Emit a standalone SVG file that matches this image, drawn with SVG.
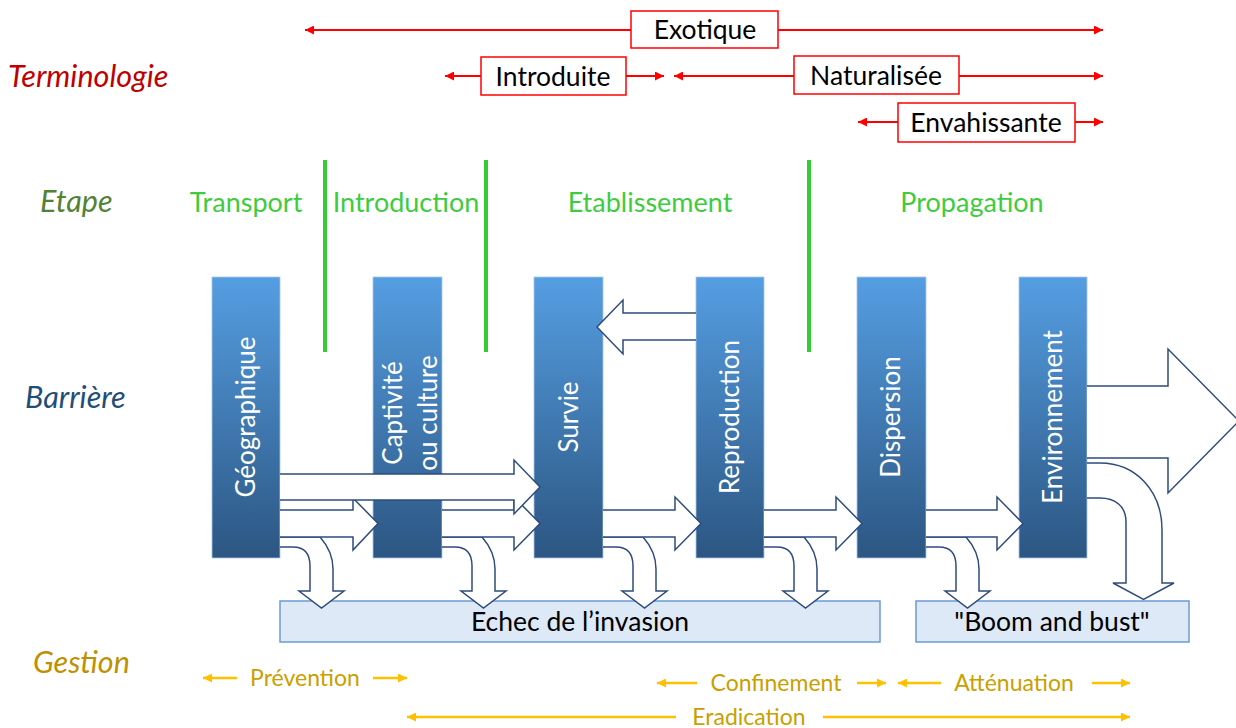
<svg xmlns="http://www.w3.org/2000/svg" xmlns:xlink="http://www.w3.org/1999/xlink" width="1236" height="728" viewBox="0 0 1236 728">
<style>
.lbl{font-family:Lato,"Liberation Sans",sans-serif;font-style:italic;font-size:30.5px}
.etape{font-family:Lato,"Liberation Sans",sans-serif;font-size:27px;fill:#3ecc3e;text-anchor:middle}
.term{font-family:Lato,"Liberation Sans",sans-serif;font-size:26.5px;fill:#000;text-anchor:middle}
.tbox{fill:#fff;stroke:#ff0000;stroke-width:1.5}
.rline{stroke:#ff0000;stroke-width:2;fill:none}
.gline{stroke:#ffc000;stroke-width:2.5;fill:none}
.gest{font-family:Lato,"Liberation Sans",sans-serif;font-size:23px;fill:#c9a000;text-anchor:middle}
.bar{fill:url(#barGrad);stroke:#a9c6ea;stroke-width:0.8}
.btxt{font-family:Lato,"Liberation Sans",sans-serif;font-size:26px;fill:#fff;text-anchor:middle}
.green{stroke:#33cc33;stroke-width:4}
.blk{fill:#fff;stroke:#2f4b7c;stroke-width:1.5;stroke-linejoin:miter}
.outbox{fill:#dde9f6;stroke:#6c9bd2;stroke-width:1.5}
.otxt{font-family:Lato,"Liberation Sans",sans-serif;font-size:26.5px;fill:#000;text-anchor:middle}
</style>
<defs>
<linearGradient id="barGrad" x1="0" y1="0" x2="0" y2="1">
<stop offset="0" stop-color="#559ee2"/>
<stop offset="1" stop-color="#2c5682"/>
</linearGradient>
<marker id="ra" viewBox="0 0 10 10" refX="10" refY="5" markerWidth="9" markerHeight="9" markerUnits="userSpaceOnUse" orient="auto-start-reverse">
<path d="M0,0 L10,5 L0,10 Z" fill="#ff0000"/>
</marker>
<marker id="ga" viewBox="0 0 10 10" refX="10" refY="5" markerWidth="9" markerHeight="9" markerUnits="userSpaceOnUse" orient="auto-start-reverse">
<path d="M0,0 L10,5 L0,10 Z" fill="#ffc000"/>
</marker>
<path id="curve" class="blk" d="M0,547 L13,547 Q30,547 30,566 L30,591 L19,591 L41.5,608 L64,591 L53,591 L53,569 C53,557 48,546 40,537 L0,537"/>
</defs>

<g id="labels">
<text class="lbl" x="8" y="87" fill="#c00000">Terminologie</text>
<text class="lbl" x="40" y="212" fill="#548235">Etape</text>
<text class="lbl" x="25" y="408" fill="#1f4e79">Barrière</text>
<text class="lbl" x="33" y="673" fill="#bf9000">Gestion</text>
</g>

<g id="terminologie">
<g id="t-exotique">
<line class="rline" x1="305" y1="30" x2="1103" y2="30" marker-start="url(#ra)" marker-end="url(#ra)"/>
<rect class="tbox" x="631" y="11" width="147" height="37"/>
<text class="term" x="705" y="39">Exotique</text>
</g>
<g id="t-introduite">
<line class="rline" x1="445" y1="76" x2="664" y2="76" marker-start="url(#ra)" marker-end="url(#ra)"/>
<rect class="tbox" x="481" y="57" width="145" height="38"/>
<text class="term" x="553" y="86">Introduite</text>
</g>
<g id="t-naturalisee">
<line class="rline" x1="674" y1="76" x2="1103" y2="76" marker-start="url(#ra)" marker-end="url(#ra)"/>
<rect class="tbox" x="794" y="56" width="165" height="38"/>
<text class="term" x="876" y="85">Naturalisée</text>
</g>
<g id="t-envahissante">
<line class="rline" x1="858" y1="122" x2="1103" y2="122" marker-start="url(#ra)" marker-end="url(#ra)"/>
<rect class="tbox" x="898" y="103" width="177" height="39"/>
<text class="term" x="986" y="132">Envahissante</text>
</g>
</g>

<g id="etapes">
<text class="etape" x="246" y="212">Transport</text>
<text class="etape" x="406" y="212">Introduction</text>
<text class="etape" x="650" y="212">Etablissement</text>
<text class="etape" x="972" y="212">Propagation</text>
<line class="green" x1="325" y1="160" x2="325" y2="352"/>
<line class="green" x1="486" y1="160" x2="486" y2="352"/>
<line class="green" x1="809" y1="160" x2="809" y2="352"/>
</g>

<g id="barrieres">
<g id="b-geo"><rect class="bar" x="212" y="277" width="68" height="281"/>
<text class="btxt" transform="translate(246,417) rotate(-90)" dy="0.35em">Géographique</text></g>
<g id="b-capt"><rect class="bar" x="373" y="277" width="69" height="281"/>
<text class="btxt" transform="translate(393,413) rotate(-90)" dy="0.35em">Captivité</text>
<text class="btxt" transform="translate(428,413) rotate(-90)" dy="0.35em">ou culture</text></g>
<g id="b-survie"><rect class="bar" x="534" y="277" width="69" height="281"/>
<text class="btxt" transform="translate(569,417) rotate(-90)" dy="0.35em">Survie</text></g>
<g id="b-repro"><rect class="bar" x="696" y="277" width="68" height="281"/>
<text class="btxt" transform="translate(730,417) rotate(-90)" dy="0.35em">Reproduction</text></g>
<g id="b-disp"><rect class="bar" x="857" y="277" width="69" height="281"/>
<text class="btxt" transform="translate(891,417) rotate(-90)" dy="0.35em">Dispersion</text></g>
<g id="b-env"><rect class="bar" x="1019" y="277" width="68" height="281"/>
<text class="btxt" transform="translate(1053,417) rotate(-90)" dy="0.35em">Environnement</text></g>
</g>

<g id="issues">
<g id="echec"><rect class="outbox" x="280" y="601" width="600" height="41"/>
<text class="otxt" x="580" y="631">Echec de l’invasion</text></g>
<g id="boom"><rect class="outbox" x="916" y="601" width="273" height="41"/>
<text class="otxt" x="1052" y="631">"Boom and bust"</text></g>
</g>

<g id="connectors">
<use xlink:href="#curve" x="280"/>
<use xlink:href="#curve" x="442"/>
<use xlink:href="#curve" x="603"/>
<use xlink:href="#curve" x="764"/>
<use xlink:href="#curve" x="926"/>
<path class="blk" d="M280,510 L353,510 L353,498 L378,523.5 L353,550 L353,537 L280,537"/>
<path class="blk" d="M442,510 L514,510 L514,497 L540,523.5 L514,550 L514,537 L442,537"/>
<path class="blk" d="M603,510 L675,510 L675,497 L701,523.5 L675,550 L675,537 L603,537"/>
<path class="blk" d="M764,510 L836,510 L836,497 L862,523.5 L836,550 L836,537 L764,537"/>
<path class="blk" d="M926,510 L997,510 L997,497 L1023,523.5 L997,550 L997,537 L926,537"/>
<path class="blk" d="M280,474 L514,474 L514,460 L540,487 L514,514 L514,500 L280,500"/>
<path class="blk" d="M696,313 L623,313 L623,300 L597,327 L623,354 L623,340 L696,340"/>
<path class="blk" d="M1087,386 L1168,386 L1168,349 L1239,421 L1168,493 L1168,458 L1087,458"/>
<path class="blk" d="M1087,463 L1100,463 C1135,463 1162,490 1162,530 L1162,583 L1174,583 L1143.5,599.5 L1113,583 L1126,583 L1126,522 C1126,506 1115,498 1100,498 L1087,498"/>
</g>

<g id="gestion">
<g id="g-prev">
<line class="gline" x1="237" y1="678" x2="203" y2="678" marker-end="url(#ga)"/>
<text class="gest" x="305" y="686">Prévention</text>
<line class="gline" x1="373" y1="678" x2="407" y2="678" marker-end="url(#ga)"/>
</g>
<g id="g-conf">
<line class="gline" x1="697" y1="683" x2="657" y2="683" marker-end="url(#ga)"/>
<text class="gest" x="776" y="691">Confinement</text>
<line class="gline" x1="857" y1="683" x2="886" y2="683" marker-end="url(#ga)"/>
</g>
<g id="g-att">
<line class="gline" x1="941" y1="683" x2="898" y2="683" marker-end="url(#ga)"/>
<text class="gest" x="1014" y="691">Atténuation</text>
<line class="gline" x1="1092" y1="683" x2="1130" y2="683" marker-end="url(#ga)"/>
</g>
<g id="g-erad">
<line class="gline" x1="676" y1="717" x2="407" y2="717" marker-end="url(#ga)"/>
<text class="gest" x="749" y="725">Eradication</text>
<line class="gline" x1="823" y1="717" x2="1130" y2="717" marker-end="url(#ga)"/>
</g>
</g>
</svg>
